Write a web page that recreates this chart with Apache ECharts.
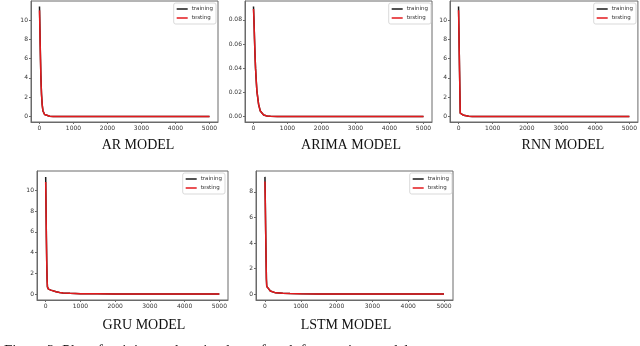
<!DOCTYPE html>
<html>
<head>
<meta charset="utf-8">
<script src="https://cdn.jsdelivr.net/npm/echarts@6/dist/echarts.min.js"></script>
<style>
    html, body { margin: 0; padding: 0; background: #fff; }
    #main { width: 640px; height: 346px; }
</style>
</head>
<body>
<div id="main"></div>
<script>
// epochs (x values shared by every panel)
var epochs = [0, 10, 20, 30, 40, 50, 60, 80, 100, 150, 200, 300, 400, 500, 700, 1000, 1500, 2000, 3000, 4000, 5000];
var xTicks = [0, 1000, 2000, 3000, 4000, 5000];

// AR
var arTrain = [11.4, 9.6, 7.6, 5.9, 4.3, 3.2, 2.3, 1.2, 0.6, 0.2, 0.07, 0.02, 0.01, 0.005, 0, 0, 0, 0, 0, 0, 0];
var arTest = [11.0, 9.3, 7.4, 5.8, 4.2, 3.1, 2.2, 1.2, 0.6, 0.2, 0.07, 0.02, 0.01, 0.005, 0, 0, 0, 0, 0, 0, 0];
var arTicks = [0, 2, 4, 6, 8, 10];

// ARIMA
var arimaTrain = [0.091, 0.083, 0.074, 0.064, 0.055, 0.047, 0.040, 0.030, 0.021, 0.010, 0.0045, 0.0012, 0.0003, 0.0001, 0, 0, 0, 0, 0, 0, 0];
var arimaTest = [0.089, 0.082, 0.073, 0.064, 0.055, 0.047, 0.040, 0.030, 0.021, 0.010, 0.0045, 0.0012, 0.0003, 0.0001, 0, 0, 0, 0, 0, 0, 0];
var arimaTicks = [0, 0.02, 0.04, 0.06, 0.08];

// RNN
var rnnTrain = [11.4, 9.2, 6.9, 4.7, 2.5, 0.35, 0.25, 0.22, 0.2, 0.12, 0.06, 0.02, 0.01, 0.005, 0, 0, 0, 0, 0, 0, 0];
var rnnTest = [11.0, 9.0, 6.8, 4.6, 2.4, 0.35, 0.25, 0.22, 0.2, 0.12, 0.06, 0.02, 0.01, 0.005, 0, 0, 0, 0, 0, 0, 0];
var rnnTicks = [0, 2, 4, 6, 8, 10];

// GRU
var gruTrain = [11.3, 8.5, 5.5, 3.2, 1.5, 0.7, 0.52, 0.48, 0.45, 0.38, 0.32, 0.22, 0.15, 0.11, 0.07, 0.04, 0.03, 0.02, 0.01, 0.01, 0.01];
var gruTest = [10.8, 8.3, 5.4, 3.1, 1.5, 0.7, 0.52, 0.48, 0.45, 0.38, 0.32, 0.22, 0.15, 0.11, 0.07, 0.04, 0.03, 0.02, 0.01, 0.01, 0.01];
var gruTicks = [0, 2, 4, 6, 8, 10];

// LSTM
var lstmTrain = [9.17, 7.2, 5.0, 3.0, 1.2, 0.6, 0.58, 0.5, 0.43, 0.25, 0.15, 0.1, 0.08, 0.06, 0.04, 0.02, 0.01, 0.01, 0.005, 0.005, 0.005];
var lstmTest = [8.8, 7.0, 4.9, 3.0, 1.2, 0.6, 0.58, 0.5, 0.43, 0.25, 0.15, 0.1, 0.08, 0.06, 0.04, 0.02, 0.01, 0.01, 0.005, 0.005, 0.005];
var lstmTicks = [0, 2, 4, 6, 8];

var titles = ['AR MODEL', 'ARIMA MODEL', 'RNN MODEL', 'GRU MODEL', 'LSTM MODEL'];
var caption = 'Figure 2: Plot of training and testing loss of each forecasting model';

var panels = [
    { train: arTrain, test: arTest, ticks: arTicks, yMin: -0.57, yMax: 11.97, dec: 0,
      box: [31, 1, 187, 121], legendRight: 424, title: [133, 133] },
    { train: arimaTrain, test: arimaTest, ticks: arimaTicks, yMin: -0.0046, yMax: 0.0956, dec: 2,
      box: [245, 1, 187, 121], legendRight: 209, title: [346, 133] },
    { train: rnnTrain, test: rnnTest, ticks: rnnTicks, yMin: -0.57, yMax: 11.97, dec: 0,
      box: [450, 1, 188, 121], legendRight: 4, title: [558, 133] },
    { train: gruTrain, test: gruTest, ticks: gruTicks, yMin: -0.57, yMax: 11.87, dec: 0,
      box: [37, 171, 191, 129], legendRight: 415, title: [139, 313] },
    { train: lstmTrain, test: lstmTest, ticks: lstmTicks, yMin: -0.46, yMax: 9.63, dec: 0,
      box: [256, 171, 197, 129], legendRight: 188, title: [341, 313] }
];

function pairs(xs, ys) {
    return xs.map(function (x, i) { return [x, ys[i]] })
}

var tickFont = { color: '#333', fontSize: 6, fontFamily: 'DejaVu Sans' };
var spine = '#6a6a6a';

var grid = [], xAxis = [], yAxis = [], series = [], legend = [], title = [];

panels.forEach(function (p, i) {
    grid.push({
        left: p.box[0], top: p.box[1], width: p.box[2], height: p.box[3],
        show: true, borderColor: spine, borderWidth: 1, backgroundColor: '#fff'
    });
    xAxis.push({
        type: 'value', gridIndex: i, min: -250, max: 5250,
        axisLine: { show: true, onZero: false, lineStyle: { color: spine } },
        axisTick: { show: true, length: 2, customValues: xTicks, lineStyle: { color: spine } },
        axisLabel: Object.assign({
            customValues: xTicks, margin: 3,
            formatter: function (v) { return String(v) }
        }, tickFont),
        splitLine: { show: false }
    });
    yAxis.push({
        type: 'value', gridIndex: i, min: p.yMin, max: p.yMax,
        axisLine: { show: true, onZero: false, lineStyle: { color: spine } },
        axisTick: { show: true, length: 2, customValues: p.ticks, lineStyle: { color: spine } },
        axisLabel: Object.assign({
            customValues: p.ticks, margin: 3,
            formatter: function (v) { return Number(v).toFixed(p.dec) }
        }, tickFont),
        splitLine: { show: false }
    });
    series.push({
        name: 'training', type: 'line', xAxisIndex: i, yAxisIndex: i,
        data: pairs(epochs, p.train), showSymbol: false, silent: true,
        lineStyle: { color: '#1a1a1a', width: 1.5 }, itemStyle: { color: '#1a1a1a' }
    });
    series.push({
        name: 'testing', type: 'line', xAxisIndex: i, yAxisIndex: i,
        data: pairs(epochs, p.test), showSymbol: false, silent: true,
        lineStyle: { color: '#e3191c', width: 1.5 }, itemStyle: { color: '#e3191c' }
    });
    legend.push({
        data: ['training', 'testing'], orient: 'vertical',
        right: p.legendRight, top: p.box[1] + 2,
        icon: 'rect', itemWidth: 11, itemHeight: 1.5, itemGap: 3,
        padding: [3, 3, 3, 3], borderColor: '#cfcfcf', borderWidth: 0.8, borderRadius: 2,
        textStyle: { color: '#333', fontSize: 5.5, fontFamily: 'DejaVu Sans', padding: [0, 0, 0, -1] },
        selectedMode: false
    });
    title.push({
        text: titles[i], left: p.title[0], top: p.title[1], textAlign: 'center',
        textStyle: { color: '#111', fontSize: 14, fontWeight: 'normal', fontFamily: 'Liberation Serif' }
    });
});

// figure caption, cut off by the bottom edge
title.push({
    text: caption, left: -1, top: 339,
    textStyle: { color: '#111', fontSize: 15, fontWeight: 'normal', fontFamily: 'Liberation Serif' }
});

var chart = echarts.init(document.getElementById('main'), null, { renderer: 'canvas' });
chart.setOption({
    animation: false,
    backgroundColor: '#fff',
    title: title,
    legend: legend,
    grid: grid,
    xAxis: xAxis,
    yAxis: yAxis,
    series: series
});
</script>
</body>
</html>
